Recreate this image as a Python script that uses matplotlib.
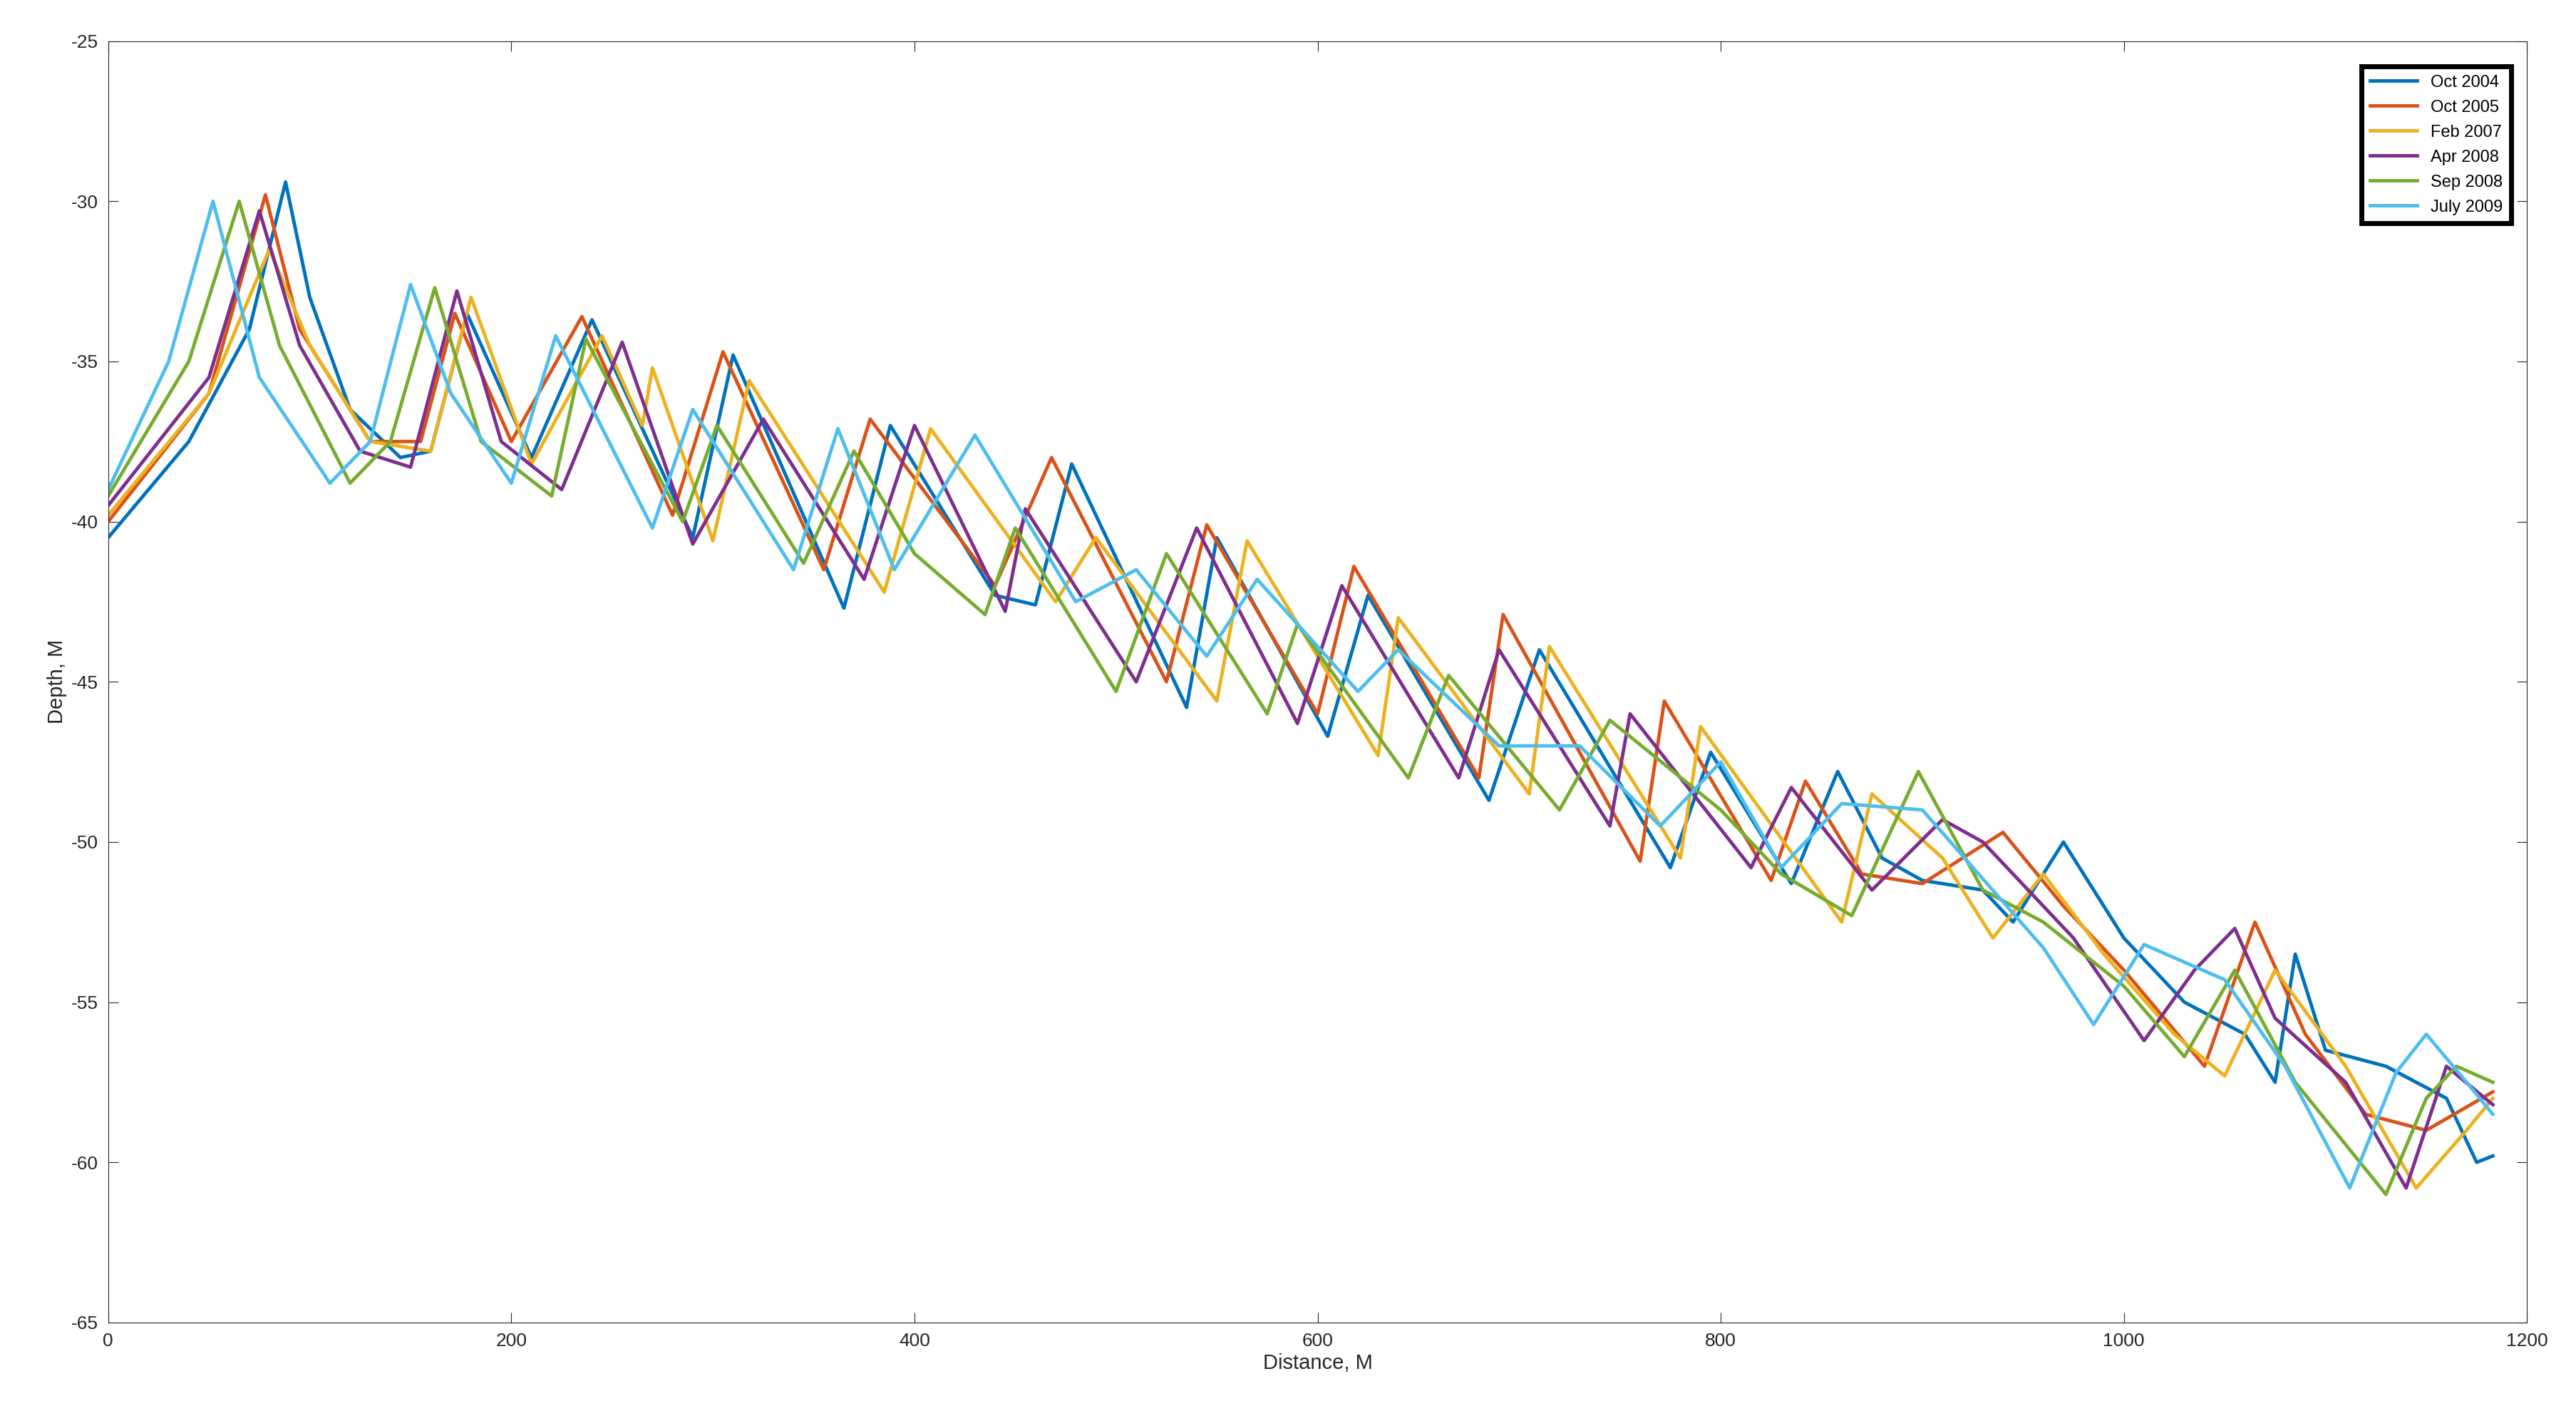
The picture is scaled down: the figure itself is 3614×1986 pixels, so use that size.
import matplotlib
matplotlib.use("Agg")
import matplotlib.pyplot as plt

plt.rcParams["axes.unicode_minus"] = False
plt.rcParams["font.family"] = ["Liberation Sans", "DejaVu Sans"]

labels = ["Oct 2004", "Oct 2005", "Feb 2007", "Apr 2008", "Sep 2008", "July 2009"]
colors = ["#0072BD", "#D95319", "#EDB120", "#7E2F8E", "#77AC30", "#4DBEEE"]

oct2004_x = [0, 40, 70, 88, 100, 120, 145, 160, 178, 210, 240, 290, 310, 365, 388, 440, 460, 478, 535, 550, 605, 625, 685, 710, 775, 795, 835, 858, 880, 900, 930, 945, 960, 970, 990, 1000, 1030, 1060, 1075, 1085, 1100, 1130, 1160, 1175, 1183]
oct2004_y = [-40.5, -37.5, -34, -29.4, -33, -36.5, -38, -37.8, -33.5, -38, -33.7, -40.5, -34.8, -42.7, -37, -42.3, -42.6, -38.2, -45.8, -40.5, -46.7, -42.3, -48.7, -44, -50.8, -47.2, -51.3, -47.8, -50.5, -51.2, -51.5, -52.5, -51, -50, -52, -53, -55, -56, -57.5, -53.5, -56.5, -57, -58, -60, -59.8]

oct2005_x = [0, 50, 78, 95, 130, 155, 172, 200, 235, 280, 305, 355, 378, 440, 468, 525, 545, 600, 618, 680, 692, 760, 772, 825, 842, 870, 900, 940, 970, 1000, 1040, 1065, 1090, 1120, 1150, 1183]
oct2005_y = [-40, -36, -29.8, -34, -37.5, -37.5, -33.5, -37.5, -33.6, -39.8, -34.7, -41.5, -36.8, -42, -38, -45, -40.1, -46, -41.4, -48, -42.9, -50.6, -45.6, -51.2, -48.1, -51, -51.3, -49.7, -52, -54, -57, -52.5, -56, -58.5, -59, -57.8]

feb2007_x = [0, 50, 80, 100, 130, 160, 180, 210, 245, 265, 270, 300, 318, 385, 408, 470, 490, 550, 565, 630, 640, 705, 715, 780, 790, 860, 875, 910, 935, 960, 990, 1025, 1050, 1075, 1110, 1145, 1170, 1183]
feb2007_y = [-39.8, -36, -31.5, -34.5, -37.5, -37.8, -33, -38.2, -34.2, -37, -35.2, -40.6, -35.6, -42.2, -37.1, -42.5, -40.5, -45.6, -40.6, -47.3, -43, -48.5, -43.9, -50.5, -46.4, -52.5, -48.5, -50.5, -53, -51, -53.5, -56, -57.3, -54, -57, -60.8, -59, -58]

apr2008_x = [0, 50, 75, 95, 125, 150, 173, 195, 225, 255, 290, 325, 375, 400, 445, 455, 510, 540, 590, 612, 670, 690, 745, 755, 815, 835, 875, 910, 930, 975, 1010, 1035, 1055, 1075, 1110, 1140, 1160, 1183]
apr2008_y = [-39.5, -35.5, -30.3, -34.5, -37.8, -38.3, -32.8, -37.5, -39, -34.4, -40.7, -36.8, -41.8, -37, -42.8, -39.6, -45, -40.2, -46.3, -42, -48, -44, -49.5, -46, -50.8, -48.3, -51.5, -49.3, -50, -53, -56.2, -54, -52.7, -55.5, -57.5, -60.8, -57, -58.2]

sep2008_x = [0, 40, 65, 85, 120, 140, 162, 185, 220, 237, 285, 302, 345, 370, 400, 435, 450, 500, 525, 575, 590, 645, 665, 720, 745, 800, 830, 865, 898, 930, 960, 1000, 1030, 1055, 1085, 1130, 1150, 1165, 1183]
sep2008_y = [-39.2, -35, -30, -34.5, -38.8, -37.5, -32.7, -37.5, -39.2, -34.3, -40, -37, -41.3, -37.8, -41, -42.9, -40.2, -45.3, -41, -46, -43.2, -48, -44.8, -49, -46.2, -49, -51, -52.3, -47.8, -51.5, -52.5, -54.5, -56.7, -54, -57.5, -61, -58, -57, -57.5]

jul2009_x = [0, 30, 52, 75, 110, 130, 150, 170, 200, 222, 270, 290, 340, 362, 390, 430, 480, 510, 545, 570, 620, 640, 690, 730, 770, 800, 830, 860, 900, 960, 985, 1010, 1050, 1080, 1112, 1135, 1150, 1170, 1183]
jul2009_y = [-39, -35, -30, -35.5, -38.8, -37.5, -32.6, -36, -38.8, -34.2, -40.2, -36.5, -41.5, -37.1, -41.5, -37.3, -42.5, -41.5, -44.2, -41.8, -45.3, -44, -47, -47, -49.5, -47.5, -50.8, -48.8, -49, -53.3, -55.7, -53.2, -54.3, -57, -60.8, -57.2, -56, -57.5, -58.5]

series = [
    (oct2004_x, oct2004_y),
    (oct2005_x, oct2005_y),
    (feb2007_x, feb2007_y),
    (apr2008_x, apr2008_y),
    (sep2008_x, sep2008_y),
    (jul2009_x, jul2009_y),
]

fig = plt.figure(figsize=(36.14, 19.86), dpi=100)
ax = fig.add_axes([0.042, 0.066, 0.939, 0.905])

for (x, y), label, color in zip(series, labels, colors):
    ax.plot(x, y, color=color, linewidth=3.5, label=label)

ax.set_xlim(0, 1200)
ax.set_ylim(-65, -25)
ax.set_xticks(range(0, 1201, 200))
ax.set_yticks(range(-65, -24, 5))
ax.tick_params(direction="in", labelsize=19, length=10, top=True, right=True,
               colors="#262626", pad=10)
ax.set_xlabel("Distance, M", fontsize=21, color="#262626")
ax.set_ylabel("Depth, M", fontsize=21, color="#262626")
for spine in ax.spines.values():
    spine.set_color("#262626")

leg = ax.legend(loc="upper right", fontsize=17, fancybox=False, framealpha=1,
                handlelength=2.8, borderpad=0.5, labelspacing=0.55,
                bbox_to_anchor=(0.997, 0.987))
leg.get_frame().set_edgecolor("black")
leg.get_frame().set_linewidth(5)

fig.savefig("out.png", dpi=100)
